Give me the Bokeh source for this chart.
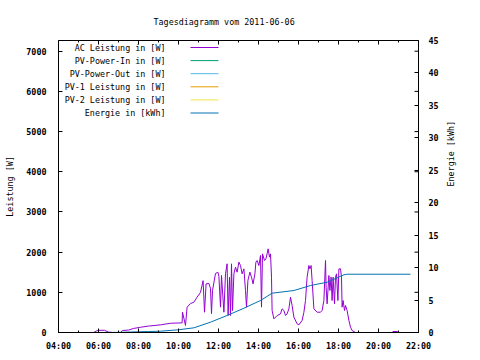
from bokeh.plotting import figure
from bokeh.models import Range1d, LinearAxis, FixedTicker, Label, Arrow, Title
from bokeh.embed import file_html
from bokeh.resources import INLINE
import math

NAN = float("nan")

# ---------------- data ----------------
title_text = "Tagesdiagramm vom 2011-06-06"
x_tick_hours = [4, 6, 8, 10, 12, 14, 16, 18, 20, 22]
x_minor_hours = [5, 7, 9, 11, 13, 15, 17, 19, 21]
x_tick_labels = ["04:00", "06:00", "08:00", "10:00", "12:00", "14:00",
                 "16:00", "18:00", "20:00", "22:00"]
y_ticks = [0, 1000, 2000, 3000, 4000, 5000, 6000, 7000]
y2_ticks = [0, 5, 10, 15, 20, 25, 30, 35, 40, 45]

ac_hours = [5.75, 5.9, 6.0, 6.3, 6.5, 6.7, 7.1, 7.2, 7.5, 7.75, 8.1, 8.5, 9.1, 9.6,
            10.18, 10.2, 10.35, 10.43, 10.6, 10.77, 10.93, 11.1, 11.23, 11.3, 11.38,
            11.52, 11.6, 11.65, 11.7, 11.85, 11.97, 12.02, 12.1, 12.15, 12.27, 12.35,
            12.43, 12.48, 12.55, 12.6, 12.65, 12.7, 12.77, 12.85, 12.93, 13.02, 13.1,
            13.18, 13.27, 13.35, 13.4, 13.47, 13.57, 13.65, 13.73, 13.82, 13.87, 13.93,
            14.02, 14.1, 14.15, 14.2, 14.3, 14.37, 14.43, 14.48, 14.55, 14.6, 14.65,
            14.68, 14.77, 14.93, 15.1, 15.18, 15.27, 15.35, 15.43, 15.52, 15.6, 15.68,
            15.77, 15.93, 16.02, 16.18, 16.27, 16.35, 16.43, 16.52, 16.57, 16.63, 16.68,
            16.77, 16.93, 17.1, 17.18, 17.27, 17.35, 17.38, 17.43, 17.52, 17.57, 17.63,
            17.68, 17.73, 17.8, 17.85, 17.9, 17.97, 18.02, 18.1, 18.15, 18.18, 18.23,
            18.3, 18.35, 18.43, 18.52, 18.6, 18.68, 18.85,
            19.0, 20.68, 20.72, 20.95, 21.0]
ac_watts = [0, 40, 55, 55, 10, 0, 0, 50, 60, 100, 130, 160, 190, 230,
            240, 505, 175, 630, 720, 755, 880, 1000, 1290, 505, 1210,
            1220, 1095, 470, 1045, 1470, 1500, 1400, 630, 1420, 505, 1460,
            1709, 423, 1377, 423, 1709, 547, 1460, 1626, 1501, 1750, 1667,
            1460, 1584, 1045, 630, 1294, 1501, 1377, 1211, 1460, 1750, 1791,
            1667, 1916, 630, 1957, 1791, 1833, 1957, 2082, 1875, 1957, 1377,
            550, 340, 420, 464, 589, 547, 423, 464, 589, 879, 672,
            381, 216, 191, 299, 505, 796, 1377, 1667, 1584, 1667, 1294,
            589, 505, 505, 547, 796, 1791, 1128, 713, 1418, 1045, 1377,
            796, 1377, 713, 1377, 1460, 796, 1584, 1584, 1377, 630, 796,
            547, 672, 547, 299, 133, 50, 0,
            NAN, 0, 25, 25, 0]

energy_hours = [6.0, 7.0, 8.5, 9.1, 10.0, 10.77, 11.6, 12.43, 13.27, 14.1, 14.68,
                15.77, 16.6, 17.43, 18.27, 18.43, 21.6]
energy_kwh = [0.0, 0.02, 0.15, 0.2, 0.42, 0.72, 1.59, 2.62, 3.74, 4.93, 6.06,
              6.47, 7.24, 7.75, 8.89, 8.98, 8.98]

pv_in_watts = []
pv_out_watts = []
pv1_watts = []
pv2_watts = []

series_names = ["AC Leistung in [W]", "PV-Power-In in [W]", "PV-Power-Out in [W]",
                "PV-1 Leistung in [W]", "PV-2 Leistung in [W]", "Energie in [kWh]"]
series_colors = ["#9400d3", "#009e73", "#56b4e9", "#e69f00", "#f0e442", "#0072b2"]

# ---------------- figure ----------------
FONT = "DejaVu Sans Mono"
FS = "8.4px"
X0, X1 = 4, 22
Y0, Y1 = 0, 7266
W_PX, H_PX = 480, 356
L, R, T, B = 58, 62, 40, 24

p = figure(width=W_PX, height=H_PX, output_backend="svg", toolbar_location=None,
           x_range=Range1d(X0, X1), y_range=Range1d(Y0, Y1),
           min_border_left=L, min_border_right=R, min_border_top=T, min_border_bottom=B,
           x_axis_type=None, y_axis_type=None)
p.grid.visible = False
p.outline_line_color = "black"
p.outline_line_width = 1
p.background_fill_color = "white"
p.border_fill_color = "white"
p.extra_y_ranges = {"energy": Range1d(0, 45)}

def style_axis(ax):
    ax.axis_line_color = "black"
    ax.major_tick_in = 4
    ax.major_tick_out = 0
    ax.minor_tick_in = 2
    ax.minor_tick_out = 0
    ax.major_tick_line_color = "black"
    ax.minor_tick_line_color = "black"
    ax.major_label_text_font = FONT
    ax.major_label_text_font_size = FS
    ax.major_label_text_font_style = "bold"
    ax.major_label_text_color = "black"
    ax.axis_label_text_font = FONT
    ax.axis_label_text_font_size = FS
    ax.axis_label_text_font_style = "normal"
    ax.axis_label_text_color = "black"

xax = LinearAxis(ticker=FixedTicker(ticks=x_tick_hours, minor_ticks=x_minor_hours))
xax.major_label_overrides = dict(zip(x_tick_hours, x_tick_labels))
style_axis(xax)
xax.major_label_standoff = 8
p.add_layout(xax, "below")

yax = LinearAxis(ticker=FixedTicker(ticks=y_ticks, minor_ticks=[]),
                 axis_label="Leistung [W]")
style_axis(yax)
yax.major_label_standoff = 12
yax.axis_label_standoff = 8
p.add_layout(yax, "left")

y2ax = LinearAxis(y_range_name="energy",
                  ticker=FixedTicker(ticks=y2_ticks, minor_ticks=[]),
                  axis_label="Energie [kWh]")
style_axis(y2ax)
y2ax.major_label_standoff = 10
y2ax.axis_label_standoff = 9
y2ax.axis_label_orientation = math.pi / 2
p.add_layout(y2ax, "right")

p.title = Title(text=title_text, align="left", offset=95, vertical_align="top",
                text_font=FONT, text_font_size=FS, text_font_style="normal",
                text_color="black", standoff=24)

FRAME_W = W_PX - L - R
FRAME_H = H_PX - T - B
dx_unit = (X1 - X0) / FRAME_W
dy_unit = (Y1 - Y0) / FRAME_H

def px_to_x(dx):
    return X0 + dx * dx_unit

def px_to_y(dy_from_top):
    return Y1 - dy_from_top * dy_unit

# ---------------- mirrored ticks (gnuplot style) ----------------
p.segment(x0=x_tick_hours, y0=[Y1] * len(x_tick_hours),
          x1=x_tick_hours, y1=[Y1 - 4 * dy_unit] * len(x_tick_hours),
          line_color="black", line_width=1)
p.segment(x0=x_minor_hours, y0=[Y1] * len(x_minor_hours),
          x1=x_minor_hours, y1=[Y1 - 2 * dy_unit] * len(x_minor_hours),
          line_color="black", line_width=1)
p.segment(x0=[X1] * len(y_ticks), y0=y_ticks,
          x1=[X1 - 4 * dx_unit] * len(y_ticks), y1=y_ticks,
          line_color="black", line_width=1)

# ---------------- series ----------------
p.line(ac_hours, ac_watts, line_color=series_colors[0], line_width=1)
p.line([], pv_in_watts, line_color=series_colors[1], line_width=1)
p.line([], pv_out_watts, line_color=series_colors[2], line_width=1)
p.line([], pv1_watts, line_color=series_colors[3], line_width=1)
p.line([], pv2_watts, line_color=series_colors[4], line_width=1)
p.line(energy_hours, energy_kwh, line_color=series_colors[5], line_width=1,
       y_range_name="energy")

# ---------------- key (gnuplot style: text right, sample line right of it) ----
for i, (name, col) in enumerate(zip(series_names, series_colors)):
    yy = px_to_y(7 + 13.1 * i)
    p.add_layout(Label(x=px_to_x(107), y=yy, text=name, text_align="right",
                       text_baseline="middle", text_font=FONT, text_font_size=FS,
                       text_color="black"))
    p.add_layout(Arrow(x_start=px_to_x(132), y_start=yy, x_end=px_to_x(160), y_end=yy,
                       end=None, line_color=col, line_width=1))

open("out.html", "w").write(file_html(p, INLINE))
